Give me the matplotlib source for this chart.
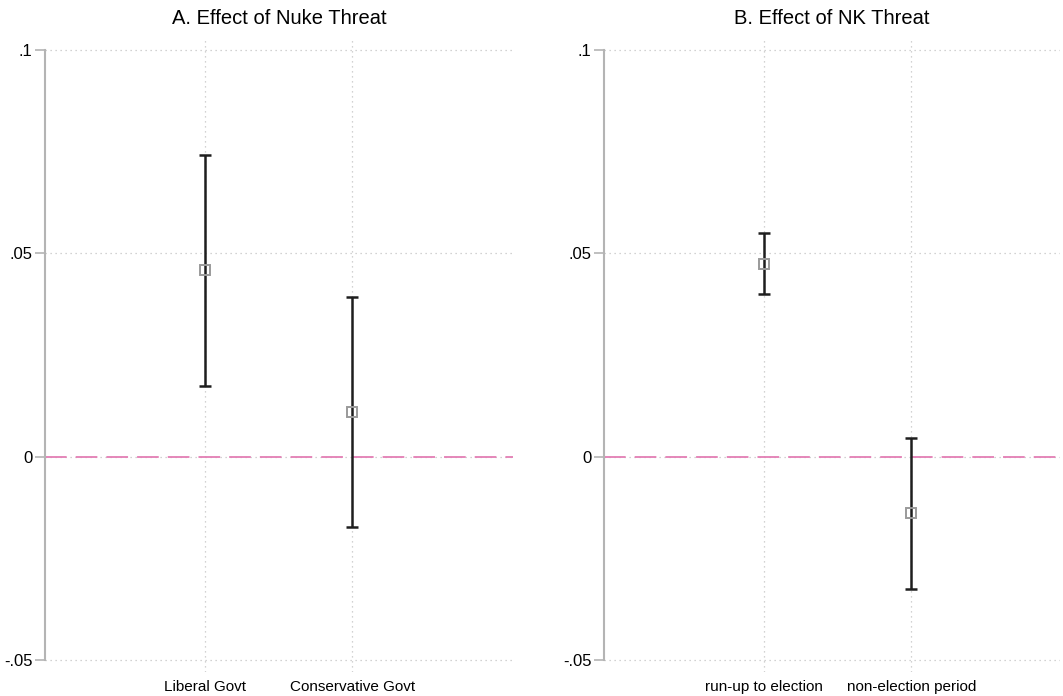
import matplotlib
matplotlib.use('Agg')
import matplotlib.pyplot as plt

plt.rcParams['font.family'] = ['Liberation Sans', 'DejaVu Sans']

# Panel A
cats_a = ['Liberal Govt', 'Conservative Govt']
est_a = [0.0458, 0.0111]
lo_a = [0.0175, -0.0172]
hi_a = [0.0741, 0.0392]

# Panel B
cats_b = ['run-up to election', 'non-election period']
est_b = [0.0475, -0.0138]
lo_b = [0.0399, -0.0325]
hi_b = [0.0549, 0.0047]

yticks = [-0.05, 0, 0.05, 0.1]
ytick_labels = ['-.05', '0', '.05', '.1']

grid_col = '#c4c4c4'
spine_col = '#b4b4b4'


def panel(ax, cats, est, lo, hi, title, xright):
    xs = [1, 2]
    ax.set_xlim(-0.09, xright)
    ax.set_ylim(-0.0529, 0.1027)

    ax.grid(True, color=grid_col, linestyle=(0, (1, 3)), linewidth=0.9)
    ax.set_axisbelow(True)
    ax.axhline(0, color='#e37eb4', linewidth=1.3, linestyle=(0, (12, 5)), zorder=2)

    for x, e, l, h in zip(xs, est, lo, hi):
        ax.errorbar([x], [e], yerr=[[e - l], [h - e]], fmt='none',
                    ecolor='#1e1e1e', elinewidth=1.8, capsize=4.5, capthick=1.8, zorder=3)
    ax.plot(xs, est, linestyle='none', marker='s', markersize=6.5,
            markerfacecolor='none', markeredgecolor='#9a9a9a', markeredgewidth=1.4, zorder=4)

    ax.set_xticks(xs)
    ax.set_xticklabels(cats, fontsize=11)
    ax.tick_params(axis='x', length=0, pad=6)
    ax.set_yticks(yticks)
    ax.set_yticklabels(ytick_labels, fontsize=12)
    ax.tick_params(axis='y', length=7, width=1.2, color=spine_col, pad=2)

    for s in ['top', 'right', 'bottom']:
        ax.spines[s].set_visible(False)
    ax.spines['left'].set_color(spine_col)
    ax.spines['left'].set_linewidth(1.5)
    ax.spines['left'].set_bounds(-0.05, 0.1)

    ax.set_title(title, fontsize=14.5, pad=11)


fig = plt.figure(figsize=(10.63, 6.96), dpi=100)
ax1 = fig.add_axes([45 / 1063, 1 - 672 / 696, (513 - 45) / 1063, (672 - 39) / 696])
ax2 = fig.add_axes([604 / 1063, 1 - 672 / 696, (1060 - 604) / 1063, (672 - 39) / 696])

panel(ax1, cats_a, est_a, lo_a, hi_a, 'A. Effect of Nuke Threat', 3.095)
panel(ax2, cats_b, est_b, lo_b, hi_b, 'B. Effect of NK Threat', 3.01)

fig.savefig('out.png', dpi=100)
